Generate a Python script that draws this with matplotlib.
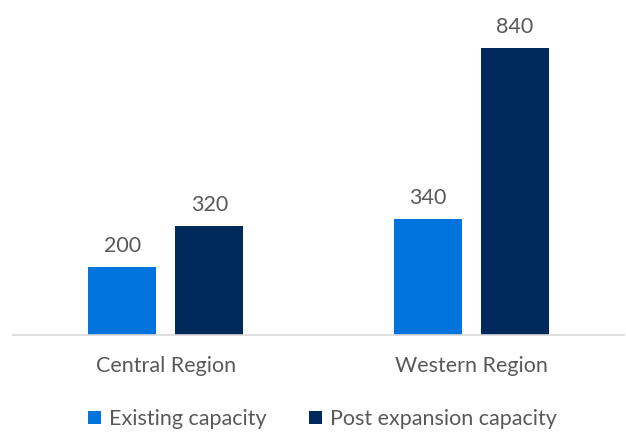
import matplotlib.pyplot as plt
import numpy as np

plt.rcParams['font.family'] = ['Lato', 'DejaVu Sans']

regions = ["Central Region", "Western Region"]
existing = [200, 340]
post_expansion = [320, 840]
series_names = ["Existing capacity", "Post expansion capacity"]

c_exist = "#0073DC"
c_post = "#002A5C"
text_c = "#595959"

fig = plt.figure(figsize=(6.26, 4.32), dpi=100)
ax = fig.add_axes([13 / 626, 1 - 335 / 432, 611 / 626, (335 - 27.5) / 432])

x = np.arange(len(regions))
w = 0.2226
off = 0.1424
b1 = ax.bar(x - off, existing, w, color=c_exist, label=series_names[0])
b2 = ax.bar(x + off, post_expansion, w, color=c_post, label=series_names[1])

for bars, vals in ((b1, existing), (b2, post_expansion)):
    for r, v in zip(bars, vals):
        ax.annotate(str(v), (r.get_x() + r.get_width() / 2, v),
                    xytext=(0, 8), textcoords="offset points",
                    ha="center", va="bottom", fontsize=15.5, color=text_c)

ax.set_xlim(-0.5, 1.5)
ax.set_ylim(0, 900)
ax.set_xticks(x)
ax.set_xticklabels(regions, fontsize=15.5, color=text_c)
ax.tick_params(axis="x", length=0, pad=15)
ax.set_yticks([])
for s in ("top", "right", "left"):
    ax.spines[s].set_visible(False)
ax.spines["bottom"].set_color("#D9D9D9")
ax.spines["bottom"].set_linewidth(1.2)

fig.legend(handles=[b1, b2], loc="center", bbox_to_anchor=(0.515, 1 - 419 / 432),
           ncol=2, frameon=False, fontsize=15.5, labelcolor=text_c,
           handlelength=0.6, handleheight=0.6, handletextpad=0.35, columnspacing=2.0)

fig.savefig("out.png", dpi=100)
